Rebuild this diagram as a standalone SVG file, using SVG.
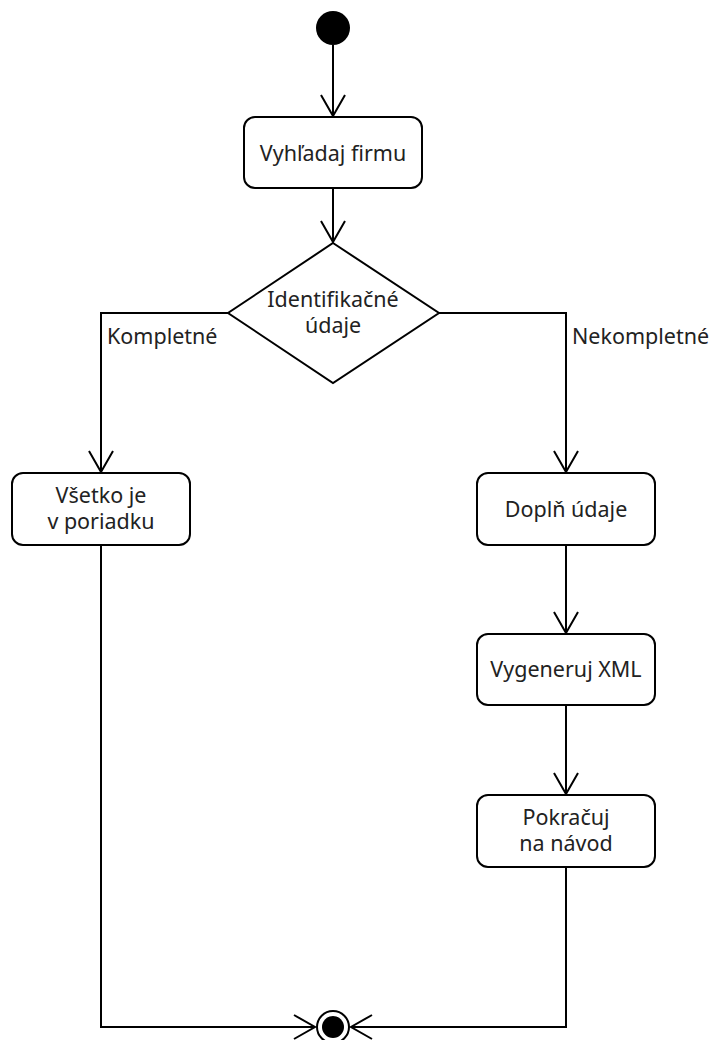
<svg xmlns="http://www.w3.org/2000/svg" width="711" height="1040" viewBox="0 0 711 1040">
<style>
.n{fill:#fff;stroke:#000;stroke-width:2}
.t{font-family:"Noto Sans","Open Sans",sans-serif;font-size:21.5px;fill:#222;text-anchor:middle}
.l{font-family:"Noto Sans","Open Sans",sans-serif;font-size:21.5px;fill:#222;text-anchor:start}
.c{fill:none;stroke:#000;stroke-width:2}
</style>
<defs>
<marker id="arr" markerUnits="userSpaceOnUse" markerWidth="30" markerHeight="30" viewBox="-25 -15 30 30" refX="0" refY="0" orient="auto">
<path d="M-21,-12 L0,0 L-21,12" fill="none" stroke="#000" stroke-width="2"/>
</marker>
</defs>
<rect width="711" height="1040" fill="#fff"/>
<g id="connectors">
<path class="c" d="M333,45 L333,116" marker-end="url(#arr)"/>
<path class="c" d="M333,188 L333,242" marker-end="url(#arr)"/>
<path class="c" d="M228,313 L101,313 L101,472" marker-end="url(#arr)"/>
<path class="c" d="M439,313 L566,313 L566,472" marker-end="url(#arr)"/>
<path class="c" d="M566,545 L566,633" marker-end="url(#arr)"/>
<path class="c" d="M566,705 L566,794" marker-end="url(#arr)"/>
<path class="c" d="M101,545 L101,1027 L315,1027" marker-end="url(#arr)"/>
<path class="c" d="M566,867 L566,1027 L351,1027" marker-end="url(#arr)"/>
<text class="l" x="107" y="344">Kompletné</text>
<text class="l" x="572" y="344">Nekompletné</text>
</g>
<g id="start"><circle cx="333" cy="28" r="17" fill="#000"/></g>
<g id="vyhladaj"><rect class="n" x="244" y="117" width="178" height="71" rx="11"/><text class="t" x="333" y="161">Vyhľadaj firmu</text></g>
<g id="decision"><polygon class="n" points="333,243 439,313 333,383 228,313"/><text class="t" x="333" y="307">Identifikačné</text><text class="t" x="333" y="333">údaje</text></g>
<g id="vsetko"><rect class="n" x="12" y="473" width="178" height="72" rx="11"/><text class="t" x="101" y="503">Všetko je</text><text class="t" x="101" y="529">v poriadku</text></g>
<g id="dopln"><rect class="n" x="477" y="473" width="178" height="72" rx="11"/><text class="t" x="566" y="517">Doplň údaje</text></g>
<g id="vygeneruj"><rect class="n" x="477" y="634" width="178" height="71" rx="11"/><text class="t" x="566" y="677">Vygeneruj XML</text></g>
<g id="pokracuj"><rect class="n" x="477" y="795" width="178" height="72" rx="11"/><text class="t" x="566" y="825">Pokračuj</text><text class="t" x="566" y="851">na návod</text></g>
<g id="end"><circle cx="333" cy="1027" r="16" fill="#fff" stroke="#000" stroke-width="2"/><circle cx="333" cy="1027" r="11" fill="#000"/></g>
</svg>
